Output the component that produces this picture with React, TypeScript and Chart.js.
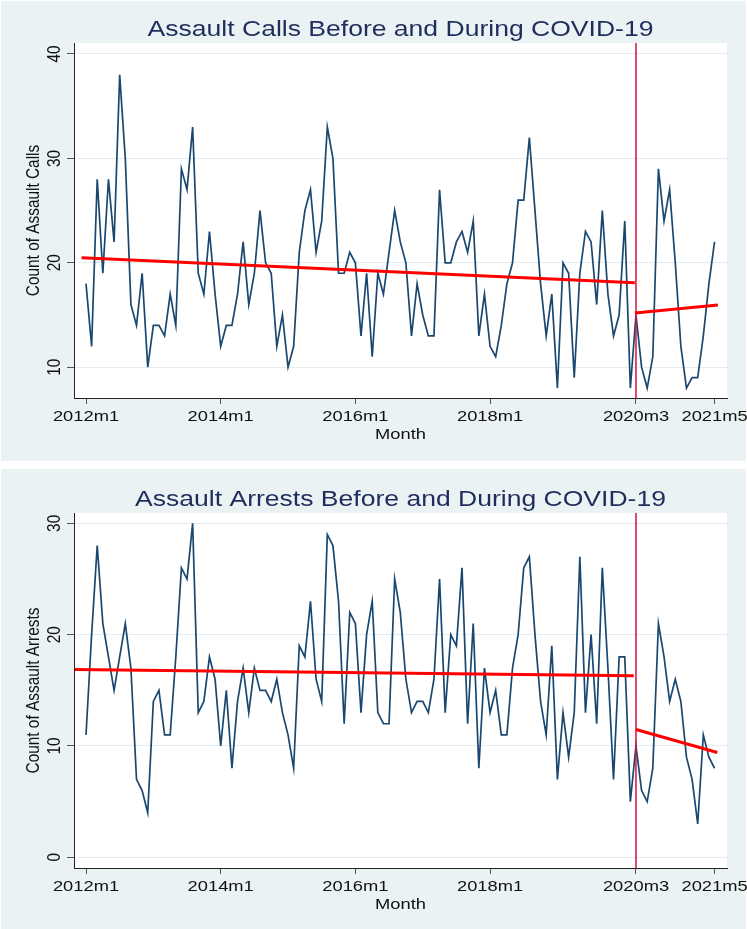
import React, { useEffect, useRef } from 'react';
import { Chart, registerables } from 'chart.js';

Chart.register(...registerables);

// ---------- data ----------
const monthTickValues = [0, 24, 48, 72, 98, 112];
const monthTickLabels = ['2012m1', '2014m1', '2016m1', '2018m1', '2020m3', '2021m5'];
const covidStartMonth = 98; // 2020m3

const callsCounts = [
  18, 12, 28, 19, 28, 22, 38, 30, 16, 14, 19, 10,
  14, 14, 13, 17, 14, 29, 27, 33, 19, 17, 23, 17,
  12, 14, 14, 17, 22, 16, 19, 25, 20, 19, 12, 15,
  10, 12, 21, 25, 27, 21, 24, 33, 30, 19, 19, 21,
  20, 13, 19, 11, 19, 17, 21, 25, 22, 20, 13, 18,
  15, 13, 13, 27, 20, 20, 22, 23, 21, 24, 13, 17,
  12, 11, 14, 18, 20, 26, 26, 32, 25, 18, 13, 17,
  8, 20, 19, 9, 19, 23, 22, 16, 25, 17, 13, 15,
  24, 8, 15, 10, 8, 11, 29, 24, 27, 20, 12, 8,
  9, 9, 13, 18, 22,
];

const arrestsCounts = [
  11, 20, 28, 21, 18, 15, 18, 21, 17, 7, 6, 4,
  14, 15, 11, 11, 18, 26, 25, 30, 13, 14, 18, 16,
  10, 15, 8, 14, 17, 13, 17, 15, 15, 14, 16, 13,
  11, 8, 19, 18, 23, 16, 14, 29, 28, 23, 12, 22,
  21, 13, 20, 23, 13, 12, 12, 25, 22, 16, 13, 14,
  14, 13, 16, 25, 13, 20, 19, 26, 12, 21, 8, 17,
  13, 15, 11, 11, 17, 20, 26, 27, 20, 14, 11, 19,
  7, 13, 9, 13, 27, 13, 20, 12, 26, 17, 7, 18,
  18, 5, 10, 6, 5, 8, 21, 18, 14, 16, 14, 9,
  7, 3, 11, 9, 8,
];

const callsFitBeforeX = [-0.8, 97.8];
const callsFitBeforeY = [20.48, 18.08];
const callsFitDuringX = [97.8, 112.6];
const callsFitDuringY = [15.2, 15.95];

const arrestsFitBeforeX = [-1.96, 97.6];
const arrestsFitBeforeY = [16.87, 16.3];
const arrestsFitDuringX = [98, 112.5];
const arrestsFitDuringY = [11.48, 9.41];

const callsYTicks = [10, 20, 30, 40];
const arrestsYTicks = [0, 10, 20, 30];

// ---------- styling ----------
const SX = 1.19; // horizontal stretch of the reference text
const FONT = '"Liberation Sans", Arial, Helvetica, sans-serif';
const BG = '#EAF2F3';
const GRID = '#E3EDEF';
const NAVY = '#1A476F';
const TITLE_COLOR = '#1E2D5C';
const W = 747;

function drawText(ctx: CanvasRenderingContext2D, text: string, x: number, y: number, size: number, color: string, align: CanvasTextAlign, rotate: boolean) {
  ctx.save();
  ctx.translate(x, y);
  ctx.scale(SX, 1);
  if (rotate) ctx.rotate(-Math.PI / 2);
  ctx.font = `${size}px ${FONT}`;
  ctx.fillStyle = color;
  ctx.textAlign = align;
  ctx.textBaseline = 'alphabetic';
  ctx.fillText(text, 0, 0);
  ctx.restore();
}

const decorPlugin = {
  id: 'decor',
  beforeDraw(chart: any, _args: any, opts: any) {
    const ctx = chart.ctx as CanvasRenderingContext2D;
    ctx.save();
    ctx.fillStyle = '#ffffff';
    ctx.fillRect(0, 0, chart.width, chart.height);
    ctx.fillStyle = BG;
    ctx.fillRect(1, opts.bgTop, 745, opts.bgBottom - opts.bgTop);
    const a = chart.chartArea;
    ctx.fillStyle = '#ffffff';
    ctx.fillRect(a.left, a.top, a.right - a.left, a.bottom - a.top);
    ctx.restore();
  },
  afterDraw(chart: any, _args: any, opts: any) {
    const ctx = chart.ctx as CanvasRenderingContext2D;
    const a = chart.chartArea;
    const dy = opts.dy;
    const xs = chart.scales.x;
    const ys = chart.scales.y;
    const cx = (a.left + a.right) / 2;
    drawText(ctx, opts.title, cx, 36 + dy, 22.3, TITLE_COLOR, 'center', false);
    monthTickValues.forEach((v, i) => {
      drawText(ctx, monthTickLabels[i], xs.getPixelForValue(v), 421 + dy, 15.4, '#111', 'center', false);
    });
    drawText(ctx, 'Month', cx, 439 + dy, 15.4, '#111', 'center', false);
    (opts.yTicks as number[]).forEach((v) => {
      drawText(ctx, String(v), 60, ys.getPixelForValue(v), 15.4, '#111', 'center', true);
    });
    drawText(ctx, opts.yTitle, 39, (a.top + a.bottom) / 2, 15.4, '#111', 'center', true);
  },
};

type PanelProps = {
  title: string;
  yTitle: string;
  counts: number[];
  fitBeforeX: number[];
  fitBeforeY: number[];
  fitDuringX: number[];
  fitDuringY: number[];
  yMin: number;
  yMax: number;
  yTicks: number[];
  height: number;
  dy: number;
  bgTop: number;
  bgBottom: number;
  top: number;
};

function Panel(p: PanelProps) {
  const ref = useRef<HTMLCanvasElement | null>(null);
  useEffect(() => {
    if (!ref.current) return;
    const areaTop = 43 + p.dy;
    const areaBottom = 398 + p.dy;
    const chart = new Chart(ref.current, {
      type: 'line',
      data: {
        datasets: [
          {
            data: p.counts.map((v, i) => ({ x: i, y: v })),
            borderColor: NAVY,
            borderWidth: 1.7,
            pointRadius: 0,
            tension: 0,
            order: 3,
          },
          {
            data: [{ x: covidStartMonth, y: p.yMin }, { x: covidStartMonth, y: p.yMax }],
            borderColor: '#D3123C',
            borderWidth: 1.5,
            pointRadius: 0,
            order: 2,
          },
          {
            data: p.fitBeforeX.map((x, i) => ({ x, y: p.fitBeforeY[i] })),
            borderColor: '#FF0000',
            borderWidth: 3,
            pointRadius: 0,
            order: 1,
          },
          {
            data: p.fitDuringX.map((x, i) => ({ x, y: p.fitDuringY[i] })),
            borderColor: '#FF0000',
            borderWidth: 3,
            pointRadius: 0,
            order: 1,
          },
        ],
      },
      options: {
        responsive: false,
        animation: false,
        devicePixelRatio: 1,
        layout: { padding: { left: 0, right: W - 727, top: areaTop, bottom: 0 } },
        plugins: {
          legend: { display: false },
          tooltip: { enabled: false },
          title: { display: false },
          decor: {
            title: p.title,
            yTitle: p.yTitle,
            yTicks: p.yTicks,
            dy: p.dy,
            bgTop: p.bgTop,
            bgBottom: p.bgBottom,
          },
        } as any,
        scales: {
          x: {
            type: 'linear',
            min: -2.14,
            max: 114.22,
            afterBuildTicks: (s: any) => {
              s.ticks = monthTickValues.map((v) => ({ value: v }));
            },
            afterFit: (s: any) => {
              s.height = p.height - areaBottom;
            },
            ticks: { display: false },
            grid: { drawOnChartArea: false, drawTicks: true, tickLength: 6, tickColor: '#555', color: '#555' },
            border: { display: true, color: '#222', width: 1 },
          },
          y: {
            type: 'linear',
            min: p.yMin,
            max: p.yMax,
            afterBuildTicks: (s: any) => {
              s.ticks = p.yTicks.map((v) => ({ value: v }));
            },
            afterFit: (s: any) => {
              s.width = 74;
            },
            ticks: { display: false },
            grid: { color: GRID, lineWidth: 1, drawTicks: true, tickLength: 7, tickColor: '#555' },
            border: { display: true, color: '#222', width: 1 },
          },
        },
      } as any,
      plugins: [decorPlugin as any],
    });
    return () => chart.destroy();
  }, []);
  return (
    <canvas
      ref={ref}
      width={W}
      height={p.height}
      style={{ position: 'absolute', left: 0, top: p.top, width: W, height: p.height, display: 'block' }}
    />
  );
}

export default function App() {
  useEffect(() => {
    document.body.style.margin = '0';
    document.body.style.background = '#ffffff';
  }, []);
  return (
    <div style={{ position: 'relative', width: W, height: 929, background: '#fff' }}>
      <Panel
        title="Assault Calls Before and During COVID-19"
        yTitle="Count of Assault Calls"
        counts={callsCounts}
        fitBeforeX={callsFitBeforeX}
        fitBeforeY={callsFitBeforeY}
        fitDuringX={callsFitDuringX}
        fitDuringY={callsFitDuringY}
        yMin={7.05}
        yMax={41.05}
        yTicks={callsYTicks}
        height={465}
        dy={0}
        bgTop={1}
        bgBottom={461}
        top={0}
      />
      <Panel
        title="Assault Arrests Before and During COVID-19"
        yTitle="Count of Assault Arrests"
        counts={arrestsCounts}
        fitBeforeX={arrestsFitBeforeX}
        fitBeforeY={arrestsFitBeforeY}
        fitDuringX={arrestsFitDuringX}
        fitDuringY={arrestsFitDuringY}
        yMin={-0.96}
        yMax={30.93}
        yTicks={arrestsYTicks}
        height={464}
        dy={5}
        bgTop={4}
        bgBottom={464}
        top={465}
      />
    </div>
  );
}
